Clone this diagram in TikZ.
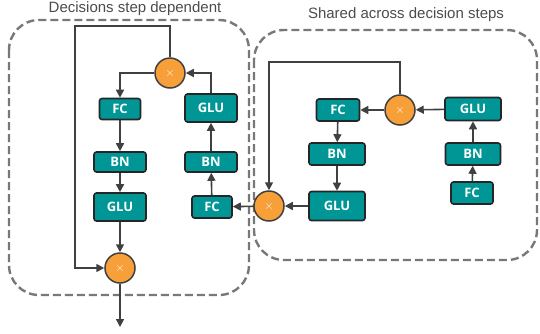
\documentclass[tikz,border=0pt]{standalone}
\usepackage{fontspec}
\setmainfont{Liberation Sans}
\newfontfamily\boxfont{Open Sans}
\usetikzlibrary{arrows.meta}
\definecolor{tealbox}{RGB}{0,150,150}
\definecolor{orangemul}{RGB}{247,160,58}
\definecolor{linegray}{RGB}{64,64,64}
\definecolor{dashgray}{RGB}{120,120,120}
\tikzset{
  layer/.style={draw=black!85,fill=tealbox,rounded corners=2.5pt,line width=1.6pt,
    text=white,font=\boxfont\bfseries\fontsize{13}{13}\selectfont,inner sep=0pt},
  mult/.style={circle,draw=linegray,fill=orangemul,line width=1.5pt,minimum size=30pt,
    inner sep=0pt,text=white,font=\fontsize{12}{12}\selectfont},
  link/.style={draw=linegray,line width=1.6pt,-{Triangle[length=8pt,width=8pt]}},
  group/.style={draw=dashgray,line width=2.4pt,dash pattern=on 8pt off 4pt,rounded corners=30pt}
}
\begin{document}
\begin{tikzpicture}[x=1pt,y=-1pt]
  \useasboundingbox (0,0) rectangle (540,333);
  % dashed groups
  \draw[group] (9,20) rectangle (249,295);
  \draw[group] (254,30) rectangle (537,260);
  \node[text=black!70,font=\fontsize{15}{15}\selectfont] (t1) at (135,9) {Decisions step dependent};
  \node[text=black!70,font=\fontsize{15}{15}\selectfont] (t2) at (406,15) {Shared across decision steps};
  % step dependent part
  \node[mult] (m1) at (170,73) {$\times$};
  \node[layer,minimum width=41pt,minimum height=21pt] (fc1) at (120,109) {FC};
  \node[layer,minimum width=52pt,minimum height=20pt] (bn1) at (120,162) {BN};
  \node[layer,minimum width=52pt,minimum height=28pt] (glu1) at (120,207) {GLU};
  \node[mult] (m2) at (120,268) {$\times$};
  \node[layer,minimum width=52pt,minimum height=28pt] (glu2) at (211,108) {GLU};
  \node[layer,minimum width=52pt,minimum height=20pt] (bn2) at (211,162) {BN};
  \node[layer,minimum width=40pt,minimum height=22pt] (fc2) at (212,207) {FC};
  \coordinate (out) at (120,327);
  % shared part
  \node[mult] (m3) at (400,110) {$\times$};
  \node[layer,minimum width=43pt,minimum height=22pt] (fc3) at (338,110) {FC};
  \node[layer,minimum width=56pt,minimum height=22pt] (bn3) at (337,154) {BN};
  \node[layer,minimum width=56pt,minimum height=29pt] (glu3) at (337,206) {GLU};
  \node[mult] (m4) at (269,206) {$\times$};
  \node[layer,minimum width=56pt,minimum height=23pt] (glu4) at (473,109) {GLU};
  \node[layer,minimum width=55pt,minimum height=22pt] (bn4) at (473,154) {BN};
  \node[layer,minimum width=42pt,minimum height=22pt] (fc4) at (472,193) {FC};
  % connectors, shared part
  \draw[link] (fc4) -- (bn4);
  \draw[link] (bn4) -- (glu4);
  \draw[link] (glu4) -- (m3);
  \draw[link] (m3) -- (fc3);
  \draw[link] (fc3) -- (bn3);
  \draw[link] (bn3) -- (glu3);
  \draw[link] (glu3) -- (m4);
  \draw[link] (m3.north) |- (271,62) -| (m4.north);
  \draw[link] (m4) -- (fc2);
  % connectors, step dependent part
  \draw[link] (fc2) -- (bn2);
  \draw[link] (bn2) -- (glu2);
  \draw[link] (glu2.north) |- (m1.east);
  \draw[link] (m1.west) -| (fc1.north);
  \draw[link] (fc1) -- (bn1);
  \draw[link] (bn1) -- (glu1);
  \draw[link] (glu1) -- (m2);
  \draw[link] (m1.north) |- (75,26) |- (m2.west);
  \draw[link] (m2) -- (out);
\end{tikzpicture}
\end{document}
